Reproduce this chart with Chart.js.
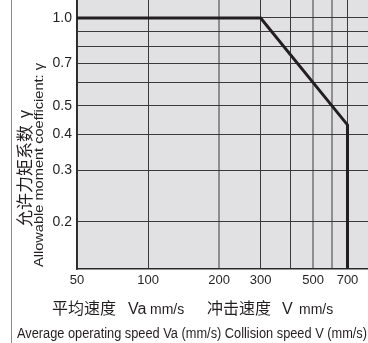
<!DOCTYPE html>
<html><head><meta charset="utf-8">
<script src="https://cdn.jsdelivr.net/npm/chart.js@4/dist/chart.umd.min.js"></script>
<style>html,body{margin:0;padding:0;background:#fff;overflow:hidden;}</style>
</head><body>
<canvas id="c" width="368" height="343" style="display:block;width:368px;height:343px"></canvas>
<script>
// ---- data ----
const speeds = [50, 300, 700, 700];
const coefficients = [1.0, 1.0, 0.43, 0.1];
const xGridValues = [50, 100, 200, 300, 400, 500, 600, 700];
const xTickLabels = [50, 100, 200, 300, 500, 700];
const yGridValues = [0.2, 0.3, 0.4, 0.5, 0.6, 0.7, 0.8, 0.9, 1.0];
const yTickLabels = [0.2, 0.3, 0.4, 0.5, 0.7, 1.0];
const xRange = [50, 855];
const yRange = [0.138, 1.152];
const lightXGrid = [200, 500, 600];

const TXT = '#231f20';
const CJK = '"Noto Sans CJK SC", sans-serif';
const LAT = '"Liberation Sans", Arial, sans-serif';

function fitText(ctx, text, x, y, width) {
  const w = ctx.measureText(text).width;
  ctx.save();
  ctx.translate(x, y);
  ctx.scale(width / w, 1);
  ctx.fillText(text, 0, 0);
  ctx.restore();
}

const decorPlugin = {
  id: 'decor',
  beforeDraw(chart) {
    const {ctx, chartArea: a} = chart;
    ctx.save();
    ctx.fillStyle = '#e1e1e3';
    ctx.fillRect(a.left, a.top, a.right - a.left, a.bottom - a.top);
    ctx.restore();
  },
  afterDraw(chart) {
    const ctx = chart.ctx;
    ctx.save();
    // frame line at left
    ctx.strokeStyle = '#8a8a8a';
    ctx.lineWidth = 1;
    ctx.beginPath(); ctx.moveTo(11.5, 0); ctx.lineTo(11.5, 343); ctx.stroke();
    ctx.fillStyle = TXT;
    // y titles (rotated)
    ctx.save();
    ctx.translate(31, 227); ctx.rotate(-Math.PI / 2);
    ctx.textAlign = 'left'; ctx.textBaseline = 'alphabetic';
    ctx.font = '17px ' + CJK;
    fitText(ctx, '允许力矩系数', 0, 0, 102);
    ctx.font = '16px ' + LAT;
    ctx.fillText('γ', 109, -1);
    ctx.restore();
    ctx.save();
    ctx.translate(43, 267); ctx.rotate(-Math.PI / 2);
    ctx.textAlign = 'left'; ctx.textBaseline = 'alphabetic';
    ctx.font = '13px ' + LAT;
    fitText(ctx, 'Allowable moment coefficient: γ', 0, 0, 204);
    ctx.restore();
    // x title line 1
    ctx.textAlign = 'left'; ctx.textBaseline = 'alphabetic';
    const parts = [
      ['平均速度', '16px ' + CJK, 52],
      ['Va', '16px ' + LAT, 128],
      ['mm/s', '14px ' + LAT, 150],
      ['冲击速度', '16px ' + CJK, 207],
      ['V', '16px ' + LAT, 282],
      ['mm/s', '14px ' + LAT, 299]
    ];
    parts.forEach(([t, f, x]) => { ctx.font = f; ctx.fillText(t, x, 314); });
    // x title line 2 (condensed)
    ctx.font = '14px ' + LAT;
    fitText(ctx, 'Average operating speed Va (mm/s) Collision speed V (mm/s)', 17, 338, 350);
    ctx.restore();
  }
};

new Chart(document.getElementById('c'), {
  type: 'line',
  data: {
    datasets: [{
      data: speeds.map((s, i) => ({x: s, y: coefficients[i]})),
      borderColor: '#231f20',
      borderWidth: 3,
      pointRadius: 0,
      fill: false,
      tension: 0
    }]
  },
  options: {
    responsive: false,
    animation: false,
    devicePixelRatio: 1,
    layout: {padding: 0},
    plugins: {legend: {display: false}, tooltip: {enabled: false}},
    scales: {
      x: {
        type: 'logarithmic',
        min: xRange[0], max: xRange[1],
        bounds: 'data',
        afterBuildTicks: s => { s.ticks = xGridValues.map(v => ({value: v})); },
        afterFit: s => { s.height = 74; s.paddingRight = 0; },
        ticks: {
          autoSkip: false, maxRotation: 0, padding: 4,
          color: TXT, font: {family: LAT, size: 13},
          callback: v => xTickLabels.includes(v) ? String(v) : ''
        },
        grid: {
          drawTicks: false,
          color: c => (c.tick && lightXGrid.includes(c.tick.value)) ? '#8e8e90' : '#3a3a3a',
          lineWidth: c => (c.tick && lightXGrid.includes(c.tick.value)) ? 2 : 1
        },
        border: {display: true, color: '#2a2a2a', width: 1.5}
      },
      y: {
        type: 'logarithmic',
        min: yRange[0], max: yRange[1],
        bounds: 'data',
        afterBuildTicks: s => { s.ticks = yGridValues.map(v => ({value: v})); },
        afterFit: s => { s.width = 77; s.paddingTop = 0; s.paddingBottom = 0; },
        ticks: {
          autoSkip: false, padding: 5,
          color: TXT, font: {family: LAT, size: 14},
          callback: v => yTickLabels.some(t => Math.abs(t - v) < 1e-9) ? v.toFixed(1) : ''
        },
        grid: {drawTicks: false, color: '#3a3a3a', lineWidth: 1},
        border: {display: true, color: '#2a2a2a', width: 1.5}
      }
    }
  },
  plugins: [decorPlugin]
});
</script>
</body></html>
